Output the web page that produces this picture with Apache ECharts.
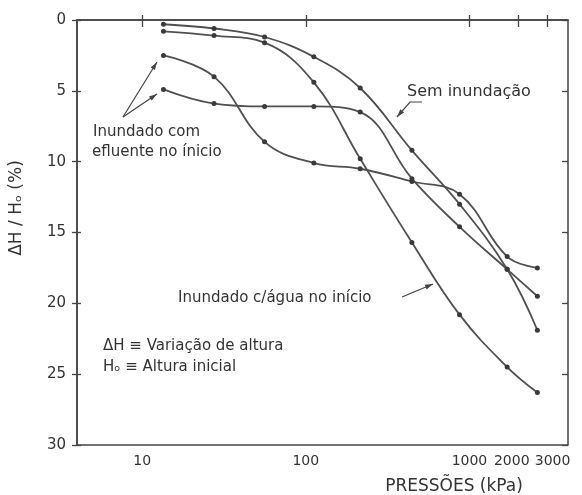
<!DOCTYPE html>
<html>
<head>
<meta charset="utf-8">
<title>Recalques por inundação</title>
<script src="https://cdn.jsdelivr.net/npm/echarts@6/dist/echarts.min.js"></script>
<style>
    html, body { margin: 0; padding: 0; background: #fff; }
    #main { width: 582px; height: 495px; }
</style>
</head>
<body>
<div id="main"></div>
<script>
    // pressões aplicadas (kPa)
    var pressures = [13.5, 27.5, 56, 112, 215, 445, 870, 1700, 2600];
    // deformação ΔH/Ho (%)
    var semInundacao = [0.3, 0.6, 1.2, 2.6, 4.8, 9.2, 13.0, 17.6, 21.9];
    var aguaInicio = [0.8, 1.1, 1.6, 4.4, 9.8, 15.7, 20.8, 24.5, 26.3];
    var efluente1 = [2.5, 4.0, 8.6, 10.1, 10.5, 11.4, 12.3, 16.7, 17.5];
    var efluente2 = [4.9, 5.9, 6.1, 6.1, 6.5, 11.2, 14.6, 17.6, 19.5];
    // rótulos do eixo x
    var xTicks = [10, 100, 1000, 2000, 3000];
    var xMin = 4, xMax = 4000;

    var ink = '#444';
    var font = '"DejaVu Sans"';

    function toLog(p) { return Math.log10(p); }
    function pairs(vals) {
        return pressures.map(function (p, i) { return [toLog(p), vals[i]]; });
    }
    var xTickLogs = xTicks.map(toLog);

    function curve(name, vals) {
        return {
            name: name,
            type: 'line',
            xAxisIndex: 0,
            yAxisIndex: 0,
            data: pairs(vals),
            smooth: 0.4,
            symbol: 'circle',
            symbolSize: 5,
            itemStyle: { color: '#3a3a3a' },
            lineStyle: { color: '#505050', width: 1.8 },
            silent: true
        };
    }

    // setas das anotações
    function arrow(points) {
        var n = points.length;
        var a = points[n - 2], b = points[n - 1];
        var ang = Math.atan2(b[1] - a[1], b[0] - a[0]);
        var len = 8, w = 2.5;
        var bx = b[0] - len * Math.cos(ang), by = b[1] - len * Math.sin(ang);
        return [{
            type: 'polyline',
            shape: { points: points },
            style: { stroke: ink, lineWidth: 1.2, fill: null }
        }, {
            type: 'polygon',
            shape: { points: [b, [bx + w * Math.sin(ang), by - w * Math.cos(ang)], [bx - w * Math.sin(ang), by + w * Math.cos(ang)]] },
            style: { fill: ink }
        }];
    }

    function label(text, x, y, size) {
        return {
            type: 'text',
            x: x, y: y,
            style: {
                text: text,
                font: (size || 15) + 'px ' + font,
                fill: '#333',
                textAlign: 'left',
                textVerticalAlign: 'middle',
                verticalAlign: 'middle'
            }
        };
    }

    var graphics = []
        .concat(arrow([[123, 117], [157, 62]]))
        .concat(arrow([[123, 117], [157, 94]]))
        .concat(arrow([[422, 102], [410, 102], [397, 117]]))
        .concat(arrow([[402, 297], [433, 284]]))
        .concat([
            label('Inundado com', 93, 132),
            label('efluente no ínicio', 92, 152),
            label('Sem inundação', 407, 92, 16),
            label('Inundado c/água no início', 178, 298),
            label('ΔH ≡ Variação de altura', 103, 346),
            label('Hₒ ≡ Altura inicial', 103, 367),
            {
                type: 'text', x: 454, y: 487,
                style: { text: 'PRESSÕES (kPa)', font: '17px ' + font, fill: '#333',
                    textAlign: 'center', textVerticalAlign: 'middle', verticalAlign: 'middle' }
            },
            {
                type: 'text', x: 17, y: 208, rotation: Math.PI / 2,
                style: { text: 'ΔH / Hₒ (%)', font: '17px ' + font, fill: '#333',
                    textAlign: 'center', textVerticalAlign: 'middle', verticalAlign: 'middle' }
            }
        ]);

    var myChart = echarts.init(document.getElementById('main'));
    var option = {
        animation: false,
        backgroundColor: '#fff',
        grid: [
            { left: 77, right: 14, top: 20, bottom: 50, show: true, borderColor: ink, borderWidth: 1.5 },
            { left: 77, right: 14, top: 20, bottom: 50 }
        ],
        xAxis: [{
            gridIndex: 0,
            type: 'value',
            min: toLog(xMin),
            max: toLog(xMax),
            position: 'bottom',
            axisLine: { show: true, lineStyle: { color: ink, width: 1.5 } },
            axisTick: { show: true, inside: false, length: 7, customValues: xTickLogs, lineStyle: { color: ink, width: 1.3 } },
            axisLabel: {
                customValues: xTickLogs,
                margin: 9,
                color: '#333',
                fontFamily: font,
                fontSize: 14,
                formatter: function (v) {
                    var p = Math.round(Math.pow(10, v));
                    if (p === 2000) return '{a|2000}';
                    if (p === 3000) return '{b|3000}';
                    return String(p);
                },
                rich: {
                    a: { fontFamily: font, fontSize: 14, color: '#333', padding: [0, 14, 0, 0] },
                    b: { fontFamily: font, fontSize: 14, color: '#333', padding: [0, 0, 0, 10] }
                }
            },
            splitLine: { show: false }
        }, {
            gridIndex: 1,
            type: 'value',
            min: toLog(xMin),
            max: toLog(xMax),
            position: 'bottom',
            axisLine: { show: false },
            axisTick: { show: true, inside: true, length: 5, customValues: xTickLogs, lineStyle: { color: ink, width: 1.3 } },
            axisLabel: { show: false },
            splitLine: { show: false }
        }],
        yAxis: [{
            gridIndex: 0,
            type: 'value',
            inverse: true,
            min: 0,
            max: 30,
            interval: 5,
            position: 'left',
            axisLine: { show: true, lineStyle: { color: ink, width: 1.5 } },
            axisTick: { show: true, inside: false, length: 5, lineStyle: { color: ink, width: 1.3 } },
            axisLabel: { margin: 11, color: '#333', fontFamily: font, fontSize: 15 },
            splitLine: { show: false }
        }, {
            gridIndex: 0,
            type: 'value',
            inverse: true,
            min: 0,
            max: 30,
            interval: 5,
            position: 'right',
            axisLine: { show: false },
            axisTick: { show: true, inside: true, length: 6, lineStyle: { color: ink, width: 1.3 } },
            axisLabel: { show: false },
            splitLine: { show: false }
        }, {
            gridIndex: 1,
            type: 'value',
            inverse: true,
            min: 0,
            max: 30,
            interval: 5,
            position: 'left',
            axisLine: { show: false },
            axisTick: { show: true, inside: true, length: 4, lineStyle: { color: ink, width: 1.3 } },
            axisLabel: { show: false },
            splitLine: { show: false }
        }],
        series: [
            curve('Sem inundação', semInundacao),
            curve('Inundado c/água no início', aguaInicio),
            curve('Inundado com efluente no início (1)', efluente1),
            curve('Inundado com efluente no início (2)', efluente2)
        ],
        graphic: graphics
    };
    myChart.setOption(option);
</script>
</body>
</html>
